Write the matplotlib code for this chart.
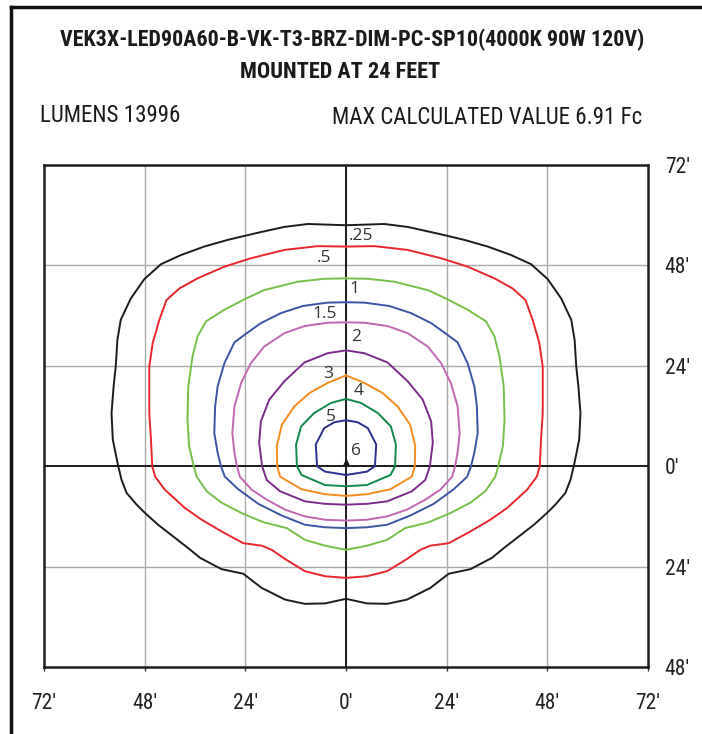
import matplotlib.pyplot as plt
import numpy as np

# Isofootcandle lines, right half only (feet), top -> bottom; left half is mirrored
levels = ['.25', '.5', '1', '1.5', '2', '3', '4', '5', '6']
colors = ['#1c1c1c', '#e8262b', '#76c04a', '#3b55a5', '#c066b2',
          '#7d2b8b', '#f48c1f', '#10894b', '#2b2e8e']

x025 = [0, 9.1, 14.7, 21.9, 28.2, 33.8, 39.3, 44.1, 48.1, 51.3, 53.7, 54.5, 54.9, 55.4, 55.9, 55.6, 54.8,
        54.3, 53.5, 52.3, 49.9, 47.9, 44.8, 41.2, 37.6, 34.8, 29.7, 24.5, 20.1, 14.5, 9.8, 5.0, 0]
y025 = [57.6, 57.9, 57.2, 55.6, 54.1, 52.5, 50.5, 48.3, 44.7, 40.1, 35.0, 30.2, 23.8, 19.1, 12.7, 6.4, 2.4,
        0, -3.3, -6.4, -9.2, -11.2, -14.0, -16.8, -19.6, -21.9, -24.6, -25.7, -29.1, -31.9, -32.9, -32.8, -31.7]

x05 = [0, 6.8, 14.7, 22.7, 29.0, 35.4, 39.7, 42.8, 44.5, 46.1, 46.9, 46.9, 46.5, 46.2,
       45.5, 43.2, 38.4, 34.4, 29.3, 24.5, 20.1, 17.7, 14.5, 9.8, 5.0, 0]
y05 = [52.5, 52.6, 51.7, 49.7, 47.7, 44.9, 42.5, 39.7, 35.0, 29.4, 23.8, 12.7, 6.4, 0,
       -2.5, -5.6, -10.0, -12.8, -15.8, -18.4, -19.0, -20.0, -22.2, -25.1, -26.3, -26.7]

x1 = [0, 5.2, 11.5, 19.5, 24.2, 29.0, 33.4, 35.4, 36.6, 37.6, 37.8, 37.4, 36.3,
      35.6, 33.2, 29.7, 24.9, 19.7, 14.1, 9.8, 5.0, 0]
y1 = [44.9, 44.8, 44.1, 42.1, 39.9, 37.4, 34.6, 31.0, 26.2, 19.1, 11.1, 4.8, 0,
      -2.5, -6.0, -8.7, -11.2, -13.4, -14.8, -17.6, -19.0, -20.0]

x15 = [0, 4.4, 10.3, 15.5, 20.3, 24.2, 26.6, 29.0, 30.6, 31.2, 31.4, 30.6, 29.8,
       28.9, 25.7, 20.9, 15.3, 9.8, 5.0, 0]
y15 = [39.2, 39.1, 38.3, 36.6, 34.2, 31.4, 29.6, 24.6, 19.1, 14.3, 7.9, 3.2, 0,
       -2.5, -5.5, -9.0, -11.8, -14.0, -14.6, -14.8]

x2 = [0, 4.4, 9.9, 14.7, 19.5, 22.7, 25.0, 26.6, 27.1, 26.6, 26.0,
      25.3, 22.5, 18.9, 14.5, 9.8, 5.0, 0]
y2 = [34.4, 34.3, 33.5, 31.8, 28.6, 24.6, 19.9, 14.3, 7.9, 3.2, 0,
      -2.5, -5.6, -8.0, -10.4, -12.0, -12.8, -13.0]

x3 = [0, 4.4, 9.9, 14.7, 18.3, 20.3, 20.7, 20.0, 18.9, 15.7, 9.8, 5.0, 0]
y3 = [27.7, 27.0, 24.8, 20.3, 15.9, 10.7, 5.6, 0, -3.3, -6.0, -8.4, -9.0, -9.2]

x4 = [0, 4.4, 8.7, 12.3, 15.3, 16.5, 16.4, 15.7, 10.6, 5.0, 0]
y4 = [21.7, 19.9, 17.5, 14.3, 9.9, 4.8, 0, -2.5, -5.5, -6.7, -7.1]

x5 = [0, 3.6, 7.6, 10.7, 11.9, 11.7, 10.6, 5.0, 0]
y5 = [16.1, 15.1, 12.7, 9.5, 5.2, 0, -2.1, -4.5, -4.8]

x6 = [0, 2.8, 5.2, 7.2, 6.9, 5.0, 0]
y6 = [11.0, 10.5, 9.1, 5.2, 0, -1.3, -2.1]

half_x = [x025, x05, x1, x15, x2, x3, x4, x5, x6]
half_y = [y025, y05, y1, y15, y2, y3, y4, y5, y6]

# label positions (ft)
label_x = [3.6, -5.2, 2.0, -5.2, 2.5, -4.2, 3.0, -3.7, 2.5]
label_y = [55.0, 49.8, 42.4, 36.4, 30.9, 22.1, 18.0, 11.8, 3.7]

xticks = [-72, -48, -24, 0, 24, 48, 72]
xticklabels = ['72\u2032', '48\u2032', '24\u2032', '0\u2032', '24\u2032', '48\u2032', '72\u2032']
yticks = [-48, -24, 0, 24, 48, 72]
yticklabels = ['48\u2032', '24\u2032', '0\u2032', '24\u2032', '48\u2032', '72\u2032']

title1 = 'VEK3X-LED90A60-B-VK-T3-BRZ-DIM-PC-SP10(4000K 90W 120V)'
title2 = 'MOUNTED AT 24 FEET'
lumens = 'LUMENS 13996'
maxval = 'MAX CALCULATED VALUE 6.91 Fc'

plt.rcParams['font.family'] = ['Roboto Condensed', 'Roboto', 'DejaVu Sans']

fig = plt.figure(figsize=(7.02, 7.34), dpi=100)

# outer frame (top + left edge)
fig.add_artist(plt.Line2D([11/702, 1.0], [1 - 7/734, 1 - 7/734], color='#111111', lw=2.5))
fig.add_artist(plt.Line2D([11/702, 11/702], [0, 1 - 7/734], color='#111111', lw=2.5))

ax = fig.add_axes([44/702, 67/734, 604/702, 502/734])

for gx in [-48, -24, 24, 48]:
    ax.axvline(gx, color='#aaaaaa', lw=1.0, zorder=1)
for gy in [-24, 24, 48]:
    ax.axhline(gy, color='#aaaaaa', lw=1.0, zorder=1)
ax.axvline(0, color='#1a1a1a', lw=1.4, zorder=2)
ax.axhline(0, color='#1a1a1a', lw=1.4, zorder=2)

for hx, hy, c in zip(half_x, half_y, colors):
    hx = np.array(hx)
    hy = np.array(hy)
    full_x = np.concatenate([hx, -hx[::-1][1:]])
    full_y = np.concatenate([hy, hy[::-1][1:]])
    ax.plot(full_x, full_y, color=c, lw=1.4, zorder=3)

for lx, ly, s in zip(label_x, label_y, levels):
    ax.text(lx, ly, s, fontsize=12.5, color='#333333', ha='center', va='center',
            family=['Open Sans', 'DejaVu Sans'], zorder=4)

ax.plot([0], [1.0], marker='^', color='#1a1a1a', markersize=3.5, zorder=5)

ax.set_xlim(-72, 72)
ax.set_ylim(-48, 72)
ax.set_xticks(xticks)
ax.set_xticklabels(xticklabels, fontsize=15.5, color='#222222')
ax.set_yticks(yticks)
ax.set_yticklabels(yticklabels, fontsize=15.5, color='#222222')
ax.yaxis.tick_right()
ax.tick_params(axis='x', length=3, width=1, pad=16, color='#333333')
ax.tick_params(axis='y', length=0, pad=12)
for sp in ax.spines.values():
    sp.set_color('#1e1e1e')
    sp.set_linewidth(1.8)

fig.text(352/702, 1 - 40/734, title1, ha='center', va='center', fontsize=15.8, fontweight='bold', color='#1a1a1a')
fig.text(340/702, 1 - 72/734, title2, ha='center', va='center', fontsize=16, fontweight='bold', color='#1a1a1a')
fig.text(40/702, 1 - 116/734, lumens, ha='left', va='center', fontsize=16.5, color='#1a1a1a')
fig.text(642/702, 1 - 117/734, maxval, ha='right', va='center', fontsize=16.5, color='#1a1a1a')

fig.savefig('out.png', dpi=100)
